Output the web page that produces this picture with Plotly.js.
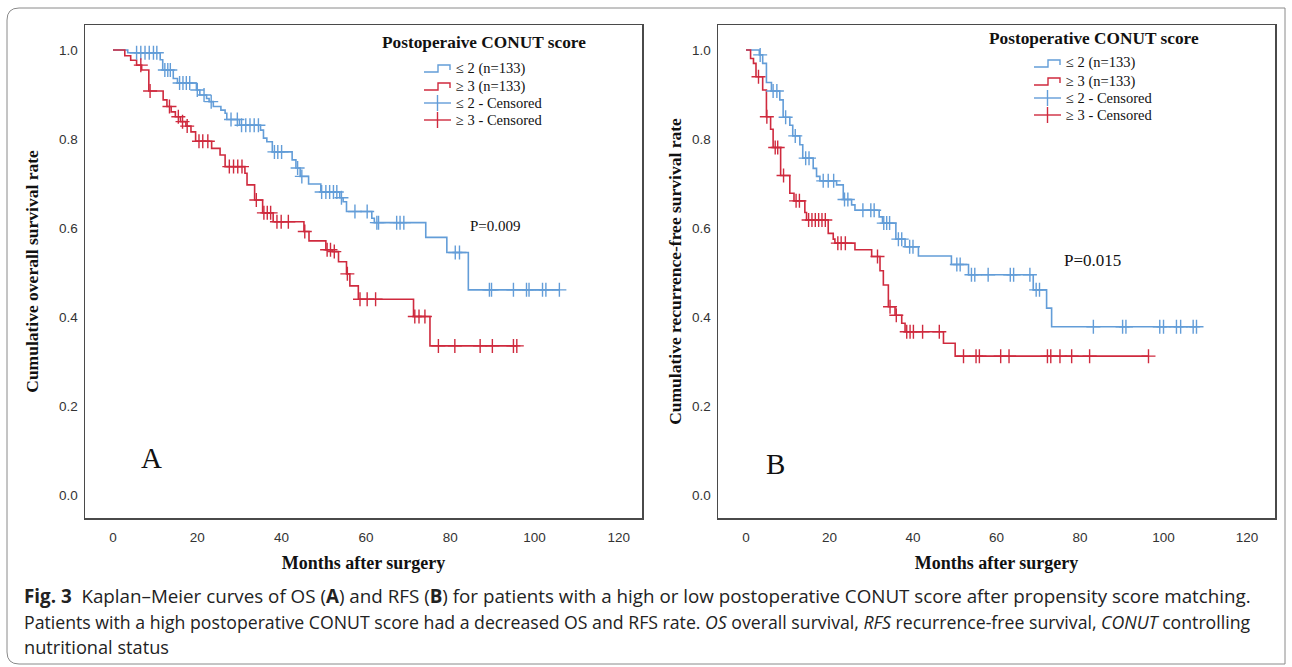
<!DOCTYPE html>
<html><head><meta charset="utf-8">
<script src="https://cdn.plot.ly/plotly-3.0.1.min.js"></script>
<style>html,body{margin:0;padding:0;background:#fff;}#chart{width:1292px;height:667px;}</style>
</head><body><div id="chart"></div>
<script>
// ---- Panel A: overall survival (OS) ----
const osLowTimes = [3.5, 11.2, 11.8, 14.3, 15.3, 19.8, 20.6, 22.2, 22.8, 23.8, 25.6, 26.6, 27.0, 30.0, 35.0, 35.7, 36.5, 37.8, 42.5, 43.4, 44.4, 46.4, 49.3, 53.8, 54.6, 55.4, 61.4, 62.0, 74.2, 79.2, 84.3];
const osLowSurv  = [0.994, 0.978, 0.955, 0.936, 0.926, 0.910, 0.899, 0.891, 0.884, 0.873, 0.865, 0.858, 0.844, 0.831, 0.820, 0.802, 0.794, 0.771, 0.753, 0.735, 0.716, 0.699, 0.681, 0.668, 0.659, 0.637, 0.622, 0.612, 0.579, 0.545, 0.461];
const osLowCensor = [5.6, 6.6, 7.6, 8.6, 9.6, 10.4, 12.3, 13.0, 13.6, 15.8, 16.6, 17.4, 18.2, 20.0, 21.6, 23.3, 28.0, 29.5, 30.5, 31.5, 32.5, 33.5, 34.5, 38.3, 39.1, 40.0, 43.8, 44.8, 49.5, 50.5, 51.4, 52.3, 53.1, 54.2, 57.4, 60.3, 62.6, 63.0, 67.3, 68.1, 69.0, 81.2, 82.2, 89.3, 89.8, 95.0, 98.1, 98.7, 101.9, 102.7, 105.9];

const osHighTimes = [2.8, 4.2, 5.6, 6.8, 8.5, 11.9, 12.8, 13.8, 14.8, 16.0, 17.3, 18.5, 19.6, 23.4, 25.4, 26.6, 31.3, 31.8, 33.6, 35.5, 38.0, 45.3, 46.5, 50.5, 52.0, 53.5, 55.4, 56.2, 58.2, 71.3, 75.2];
const osHighSurv  = [0.987, 0.977, 0.966, 0.955, 0.908, 0.888, 0.873, 0.861, 0.850, 0.839, 0.829, 0.816, 0.795, 0.779, 0.764, 0.738, 0.723, 0.697, 0.663, 0.634, 0.614, 0.592, 0.571, 0.551, 0.547, 0.524, 0.497, 0.470, 0.440, 0.401, 0.335];
const osHighCensor = [6.6, 8.8, 13.4, 15.5, 16.5, 17.6, 20.4, 21.3, 22.5, 27.6, 28.6, 29.6, 30.6, 34.0, 35.8, 36.6, 37.4, 38.9, 39.9, 41.6, 45.5, 50.8, 51.6, 52.5, 55.6, 58.6, 60.3, 62.3, 71.6, 72.6, 74.0, 77.2, 81.1, 87.1, 90.0, 95.0, 95.8];

// ---- Panel B: recurrence-free survival (RFS) ----
const rfsLowTimes = [3.2, 4.0, 4.9, 6.1, 8.1, 8.9, 10.5, 11.2, 12.9, 13.6, 16.1, 16.9, 17.7, 21.7, 23.3, 25.3, 26.1, 31.9, 32.7, 35.9, 38.1, 41.3, 49.2, 53.3, 68.8, 72.0, 73.2];
const rfsLowSurv  = [0.989, 0.970, 0.927, 0.908, 0.888, 0.849, 0.831, 0.807, 0.787, 0.757, 0.734, 0.716, 0.706, 0.697, 0.664, 0.652, 0.640, 0.625, 0.611, 0.575, 0.558, 0.537, 0.518, 0.495, 0.461, 0.420, 0.378];
const rfsLowCensor = [3.4, 6.5, 7.4, 9.5, 11.8, 14.3, 15.1, 18.5, 19.7, 21.0, 23.6, 24.4, 28.0, 29.9, 30.7, 33.0, 33.7, 34.4, 36.5, 37.3, 39.2, 40.0, 50.5, 51.3, 54.0, 54.8, 58.0, 63.3, 64.1, 68.0, 69.5, 70.3, 83.2, 90.2, 91.0, 99.1, 100.0, 103.1, 104.1, 107.1, 107.9];

const rfsHighTimes = [1.1, 1.8, 2.4, 4.0, 4.9, 5.9, 6.5, 8.3, 10.5, 11.5, 14.1, 14.5, 19.7, 20.9, 21.3, 26.1, 30.1, 32.1, 32.9, 34.1, 35.7, 37.3, 38.1, 47.3, 50.1];
const rfsHighSurv  = [0.981, 0.970, 0.940, 0.910, 0.850, 0.822, 0.781, 0.718, 0.678, 0.661, 0.635, 0.618, 0.588, 0.575, 0.566, 0.551, 0.536, 0.504, 0.472, 0.423, 0.404, 0.386, 0.367, 0.341, 0.312];
const rfsHighCensor = [3.0, 5.0, 7.0, 7.6, 9.0, 12.0, 12.8, 15.0, 15.8, 16.6, 17.4, 18.2, 19.0, 22.0, 22.8, 23.8, 31.5, 34.5, 36.0, 38.5, 39.3, 40.1, 42.3, 46.3, 52.1, 55.1, 55.9, 61.0, 63.0, 72.2, 73.0, 75.2, 78.0, 82.3, 96.4];

const xTicks = [0, 20, 40, 60, 80, 100, 120];
const yTicks = [0, 0.2, 0.4, 0.6, 0.8, 1.0];
const yTickText = ['0.0', '0.2', '0.4', '0.6', '0.8', '1.0'];

const legendTitleA = 'Postoperaive CONUT score';
const legendTitleB = 'Postoperative CONUT score';
const legendLabels = ['≤ 2 (n=133)', '≥ 3 (n=133)', '≤ 2 - Censored', '≥ 3 - Censored'];

const BLUE = '#639dd8';
const RED = '#cf2a3e';

function survAt(times, surv, t) {
  let s = 1;
  for (let i = 0; i < times.length; i++) { if (times[i] <= t) s = surv[i]; }
  return s;
}
function stepTrace(times, surv, censor, color, name, xa, ya) {
  const end = Math.max(...censor, ...times);
  return {
    type: 'scatter', mode: 'lines', name: name,
    x: [0].concat(times, [end]), y: [1].concat(surv, [surv[surv.length - 1]]),
    line: {shape: 'hv', color: color, width: 1.6}, xaxis: xa, yaxis: ya
  };
}
function censorTrace(times, surv, censor, color, name, xa, ya) {
  return {
    type: 'scatter', mode: 'markers', name: name,
    x: censor, y: censor.map(t => survAt(times, surv, t)),
    marker: {symbol: 'cross-thin', size: 10, color: color, line: {color: color, width: 1.4}},
    xaxis: xa, yaxis: ya
  };
}

const data = [
  stepTrace(osLowTimes, osLowSurv, osLowCensor, BLUE, legendLabels[0], 'x', 'y'),
  stepTrace(osHighTimes, osHighSurv, osHighCensor, RED, legendLabels[1], 'x', 'y'),
  censorTrace(osLowTimes, osLowSurv, osLowCensor, BLUE, legendLabels[2], 'x', 'y'),
  censorTrace(osHighTimes, osHighSurv, osHighCensor, RED, legendLabels[3], 'x', 'y'),
  stepTrace(rfsLowTimes, rfsLowSurv, rfsLowCensor, BLUE, legendLabels[0], 'x2', 'y2'),
  stepTrace(rfsHighTimes, rfsHighSurv, rfsHighCensor, RED, legendLabels[1], 'x2', 'y2'),
  censorTrace(rfsLowTimes, rfsLowSurv, rfsLowCensor, BLUE, legendLabels[2], 'x2', 'y2'),
  censorTrace(rfsHighTimes, rfsHighSurv, rfsHighCensor, RED, legendLabels[3], 'x2', 'y2')
];

const W = 1292, H = 667;
const px = v => v / W, py = v => 1 - v / H;
const serif = 'Liberation Serif, Times New Roman, serif';
const sans = 'Liberation Sans, Arial, sans-serif';
const capFam = 'Open Sans, sans-serif';

function xAxis(domain, range, anchor) {
  return {
    domain: domain, range: range, anchor: anchor, tickvals: xTicks, ticktext: xTicks.map(String),
    showline: true, mirror: true, linecolor: '#4a4a4a', linewidth: 1.5, showgrid: false, zeroline: false,
    ticks: 'outside', ticklen: 6, tickcolor: 'rgba(0,0,0,0)',
    tickfont: {family: sans, size: 13.5, color: '#333'},
    title: {text: 'Months after surgery', font: {family: serif, size: 18, color: '#111', weight: 'bold'}, standoff: 12}
  };
}
function yAxis(domain, anchor, title, standoff) {
  return {
    domain: domain, range: [-0.0517, 1.0562], anchor: anchor, tickvals: yTicks, ticktext: yTickText,
    showline: true, mirror: true, linecolor: '#4a4a4a', linewidth: 1.5, showgrid: false, zeroline: false,
    ticks: 'outside', ticklen: 3, tickcolor: 'rgba(0,0,0,0)',
    tickfont: {family: sans, size: 13.5, color: '#333'},
    title: {text: title, font: {family: serif, size: 17.5, color: '#111', weight: 'bold'}, standoff: standoff}
  };
}

function ann(text, x, y, font, xanchor) {
  return {text: text, x: px(x), y: py(y), xref: 'paper', yref: 'paper', xanchor: xanchor || 'center',
          yanchor: 'middle', showarrow: false, font: font};
}

// custom legend: title, rows, icons (decorative legend keys in pixel positions)
const annotations = [];
const shapes = [];
function addLegend(title, titleX, titleY, iconX, textX, rows) {
  annotations.push(ann('<b>' + title + '</b>', titleX, titleY, {family: serif, size: 17.3, color: '#111'}));
  const colors = [BLUE, RED, BLUE, RED];
  rows.forEach((ry, i) => {
    annotations.push(ann(legendLabels[i], textX, ry, {family: serif, size: 14.5, color: '#111'}, 'left'));
    const c = colors[i];
    let path;
    if (i < 2) {
      path = 'M ' + px(iconX) + ',' + py(ry + 4) + ' L ' + px(iconX + 14) + ',' + py(ry + 4) +
             ' L ' + px(iconX + 14) + ',' + py(ry - 3) + ' L ' + px(iconX + 26) + ',' + py(ry - 3) +
             ' L ' + px(iconX + 26) + ',' + py(ry + 2);
      shapes.push({type: 'path', xref: 'paper', yref: 'paper', path: path, line: {color: c, width: 1.4}});
    } else {
      shapes.push({type: 'line', xref: 'paper', yref: 'paper', x0: px(iconX), x1: px(iconX + 27), y0: py(ry), y1: py(ry), line: {color: c, width: 1.4}});
      shapes.push({type: 'line', xref: 'paper', yref: 'paper', x0: px(iconX + 13.5), x1: px(iconX + 13.5), y0: py(ry - 8), y1: py(ry + 8), line: {color: c, width: 1.4}});
    }
  });
}
addLegend(legendTitleA, 484, 43, 424, 454, [68, 86, 103, 120]);
addLegend(legendTitleB, 1094, 38, 1034, 1064, [63, 81, 98, 115]);

annotations.push(ann('P=0.009', 495, 226, {family: serif, size: 15, color: '#111'}));
annotations.push(ann('P=0.015', 1092, 260, {family: serif, size: 17, color: '#111'}));
annotations.push(ann('A', 151, 458, {family: serif, size: 29, color: '#111'}));
annotations.push(ann('B', 775, 464, {family: serif, size: 29, color: '#111'}));
annotations.push(ann('<b>Fig. 3</b>  Kaplan–Meier curves of OS (<b>A</b>) and RFS (<b>B</b>) for patients with a high or low postoperative CONUT score after propensity score matching.', 22, 596, {family: capFam, size: 18.8, color: '#222'}, 'left'));
annotations.push(ann('Patients with a high postoperative CONUT score had a decreased OS and RFS rate. <i>OS</i> overall survival, <i>RFS</i> recurrence-free survival, <i>CONUT</i> controlling', 22, 622, {family: capFam, size: 17.7, color: '#222'}, 'left'));
annotations.push(ann('nutritional status', 22, 647, {family: capFam, size: 18.2, color: '#222'}, 'left'));

shapes.push({type: 'path', xref: 'paper', yref: 'paper',
  path: 'M ' + px(7) + ',' + py(20) + ' Q ' + px(7) + ',' + py(8) + ' ' + px(19) + ',' + py(8) +
        ' L ' + px(1285) + ',' + py(8) + ' L ' + px(1285) + ',' + py(664) + ' L ' + px(19) + ',' + py(664) +
        ' Q ' + px(7) + ',' + py(664) + ' ' + px(7) + ',' + py(652) + ' Z',
  line: {color: '#8a8a8a', width: 1}, fillcolor: 'rgba(0,0,0,0)', layer: 'below'});

const layout = {
  width: W, height: H, margin: {l: 0, r: 0, t: 0, b: 0},
  paper_bgcolor: '#fff', plot_bgcolor: '#fff', showlegend: false,
  xaxis: xAxis([px(85), px(642)], [-6.64, 125.5], 'y'),
  yaxis: yAxis([py(518), py(25)], 'x', 'Cumulative overall survival rate', 16),
  xaxis2: xAxis([px(718), px(1275)], [-6.7, 126.7], 'y2'),
  yaxis2: yAxis([py(518), py(25)], 'x2', 'Cumulative recurrence-free survival rate', 6),
  annotations: annotations,
  shapes: shapes
};

Plotly.newPlot('chart', data, layout, {staticPlot: true});
</script></body></html>
